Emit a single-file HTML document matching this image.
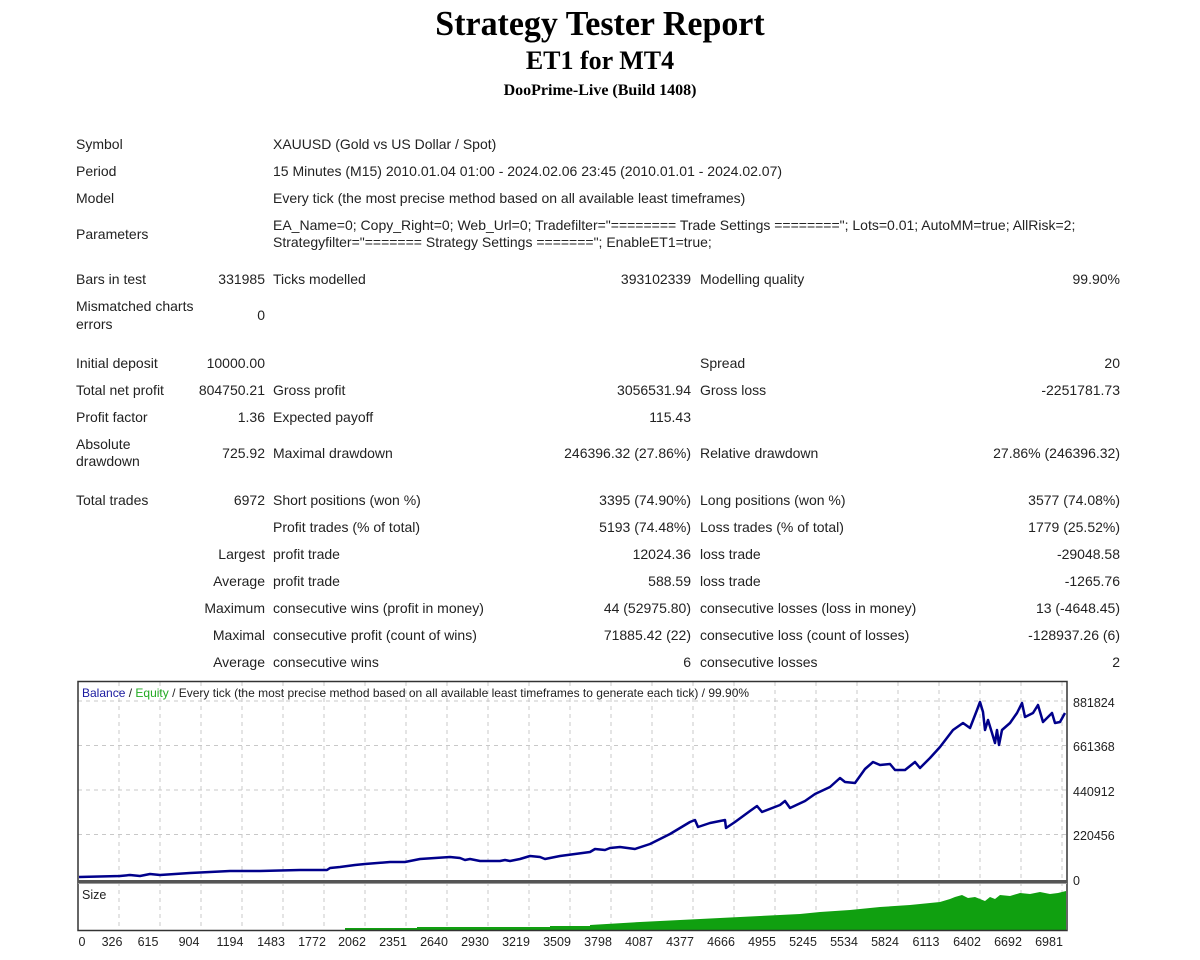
<!DOCTYPE html>
<html><head><meta charset="utf-8"><style>
body{margin:0;background:#fff;width:1200px;height:960px;position:relative;overflow:hidden;font-family:"Liberation Sans",sans-serif;color:#222}
.t{position:absolute;font-size:14px;line-height:17px;white-space:nowrap}
.r{position:absolute;font-size:14px;line-height:17px;white-space:nowrap;text-align:right}
.h{position:absolute;left:0;width:1200px;text-align:center;font-family:"Liberation Serif",serif;font-weight:bold;color:#000}
</style></head><body>
<div class="h" style="top:4px;font-size:35px;line-height:40px;transform:scaleX(0.97)">Strategy Tester Report</div>
<div class="h" style="top:46px;font-size:26px;line-height:30px">ET1 for MT4</div>
<div class="h" style="top:81px;font-size:16px;line-height:20px">DooPrime-Live (Build 1408)</div>

<div class="t" style="left:76px;top:136px">Symbol</div>
<div class="t" style="left:273px;top:136px">XAUUSD (Gold vs US Dollar / Spot)</div>
<div class="t" style="left:76px;top:163px">Period</div>
<div class="t" style="left:273px;top:163px">15 Minutes (M15) 2010.01.04 01:00 - 2024.02.06 23:45 (2010.01.01 - 2024.02.07)</div>
<div class="t" style="left:76px;top:190px">Model</div>
<div class="t" style="left:273px;top:190px">Every tick (the most precise method based on all available least timeframes)</div>
<div class="t" style="left:76px;top:226px">Parameters</div>
<div class="t" style="left:273px;top:217px">EA_Name=0; Copy_Right=0; Web_Url=0; Tradefilter="======== Trade Settings ========"; Lots=0.01; AutoMM=true; AllRisk=2;</div>
<div class="t" style="left:273px;top:234px">Strategyfilter="======= Strategy Settings ======="; EnableET1=true;</div>

<div class="t" style="left:76px;top:271px">Bars in test</div>
<div class="r" style="right:935px;top:271px">331985</div>
<div class="t" style="left:273px;top:271px">Ticks modelled</div>
<div class="r" style="right:509px;top:271px">393102339</div>
<div class="t" style="left:700px;top:271px">Modelling quality</div>
<div class="r" style="right:80px;top:271px">99.90%</div>
<div class="t" style="left:76px;top:298px">Mismatched charts</div>
<div class="t" style="left:76px;top:316px">errors</div>
<div class="r" style="right:935px;top:307px">0</div>

<div class="t" style="left:76px;top:355px">Initial deposit</div>
<div class="r" style="right:935px;top:355px">10000.00</div>
<div class="t" style="left:700px;top:355px">Spread</div>
<div class="r" style="right:80px;top:355px">20</div>
<div class="t" style="left:76px;top:382px">Total net profit</div>
<div class="r" style="right:935px;top:382px">804750.21</div>
<div class="t" style="left:273px;top:382px">Gross profit</div>
<div class="r" style="right:509px;top:382px">3056531.94</div>
<div class="t" style="left:700px;top:382px">Gross loss</div>
<div class="r" style="right:80px;top:382px">-2251781.73</div>
<div class="t" style="left:76px;top:409px">Profit factor</div>
<div class="r" style="right:935px;top:409px">1.36</div>
<div class="t" style="left:273px;top:409px">Expected payoff</div>
<div class="r" style="right:509px;top:409px">115.43</div>
<div class="t" style="left:76px;top:436px">Absolute</div>
<div class="t" style="left:76px;top:453px">drawdown</div>
<div class="r" style="right:935px;top:445px">725.92</div>
<div class="t" style="left:273px;top:445px">Maximal drawdown</div>
<div class="r" style="right:509px;top:445px">246396.32 (27.86%)</div>
<div class="t" style="left:700px;top:445px">Relative drawdown</div>
<div class="r" style="right:80px;top:445px">27.86% (246396.32)</div>

<div class="t" style="left:76px;top:492px">Total trades</div>
<div class="r" style="right:935px;top:492px">6972</div>
<div class="t" style="left:273px;top:492px">Short positions (won %)</div>
<div class="r" style="right:509px;top:492px">3395 (74.90%)</div>
<div class="t" style="left:700px;top:492px">Long positions (won %)</div>
<div class="r" style="right:80px;top:492px">3577 (74.08%)</div>
<div class="t" style="left:273px;top:519px">Profit trades (% of total)</div>
<div class="r" style="right:509px;top:519px">5193 (74.48%)</div>
<div class="t" style="left:700px;top:519px">Loss trades (% of total)</div>
<div class="r" style="right:80px;top:519px">1779 (25.52%)</div>
<div class="r" style="right:935px;top:546px">Largest</div>
<div class="t" style="left:273px;top:546px">profit trade</div>
<div class="r" style="right:509px;top:546px">12024.36</div>
<div class="t" style="left:700px;top:546px">loss trade</div>
<div class="r" style="right:80px;top:546px">-29048.58</div>
<div class="r" style="right:935px;top:573px">Average</div>
<div class="t" style="left:273px;top:573px">profit trade</div>
<div class="r" style="right:509px;top:573px">588.59</div>
<div class="t" style="left:700px;top:573px">loss trade</div>
<div class="r" style="right:80px;top:573px">-1265.76</div>
<div class="r" style="right:935px;top:600px">Maximum</div>
<div class="t" style="left:273px;top:600px">consecutive wins (profit in money)</div>
<div class="r" style="right:509px;top:600px">44 (52975.80)</div>
<div class="t" style="left:700px;top:600px">consecutive losses (loss in money)</div>
<div class="r" style="right:80px;top:600px">13 (-4648.45)</div>
<div class="r" style="right:935px;top:627px">Maximal</div>
<div class="t" style="left:273px;top:627px">consecutive profit (count of wins)</div>
<div class="r" style="right:509px;top:627px">71885.42 (22)</div>
<div class="t" style="left:700px;top:627px">consecutive loss (count of losses)</div>
<div class="r" style="right:80px;top:627px">-128937.26 (6)</div>
<div class="r" style="right:935px;top:654px">Average</div>
<div class="t" style="left:273px;top:654px">consecutive wins</div>
<div class="r" style="right:509px;top:654px">6</div>
<div class="t" style="left:700px;top:654px">consecutive losses</div>
<div class="r" style="right:80px;top:654px">2</div>

<svg width="1200" height="960" style="position:absolute;left:0;top:0" xmlns="http://www.w3.org/2000/svg">
<g stroke="#c8c8c8" stroke-width="1" stroke-dasharray="4,4">
<line x1="78" y1="701" x2="1067" y2="701"/><line x1="78" y1="745.5" x2="1067" y2="745.5"/>
<line x1="78" y1="790" x2="1067" y2="790"/><line x1="78" y1="834.5" x2="1067" y2="834.5"/>
<line x1="119" y1="682" x2="119" y2="930"/><line x1="160" y1="682" x2="160" y2="930"/><line x1="201" y1="682" x2="201" y2="930"/><line x1="242" y1="682" x2="242" y2="930"/><line x1="283" y1="682" x2="283" y2="930"/><line x1="324" y1="682" x2="324" y2="930"/><line x1="365" y1="682" x2="365" y2="930"/><line x1="406" y1="682" x2="406" y2="930"/><line x1="447" y1="682" x2="447" y2="930"/><line x1="488" y1="682" x2="488" y2="930"/><line x1="529" y1="682" x2="529" y2="930"/><line x1="570" y1="682" x2="570" y2="930"/><line x1="611" y1="682" x2="611" y2="930"/><line x1="652" y1="682" x2="652" y2="930"/><line x1="693" y1="682" x2="693" y2="930"/><line x1="734" y1="682" x2="734" y2="930"/><line x1="775" y1="682" x2="775" y2="930"/><line x1="816" y1="682" x2="816" y2="930"/><line x1="857" y1="682" x2="857" y2="930"/><line x1="898" y1="682" x2="898" y2="930"/><line x1="939" y1="682" x2="939" y2="930"/><line x1="980" y1="682" x2="980" y2="930"/><line x1="1021" y1="682" x2="1021" y2="930"/><line x1="1062" y1="682" x2="1062" y2="930"/>
</g>
<polygon fill="#10a010" points="345,931 345,928 417,928 417,927 550,927 550,926 590,926 590,925 640,922 700,919 760,916 800,914 820,912 850,910 880,907 910,905 940,902 950,899 955,897 962,895 968,898 975,897 985,901 990,897 995,899 1000,895 1010,896 1020,893 1030,894 1040,892 1050,894 1058,893 1066,891 1066,931"/>
<polyline fill="none" stroke="#00008b" stroke-width="2.5" stroke-linejoin="round" points="79,877 120,876 130,875 140,876 150,874 160,875 190,873 210,872 230,871 260,871 300,870 327,870 330,868 340,867 355,865 365,864 390,862 405,862 420,859 435,858 450,857 460,858 465,860 470,859 480,861 500,861 505,860 510,861 520,859 530,856 540,857 545,859 560,856 575,854 590,852 595,849 605,850 610,848 620,847 635,849 650,844 670,834 685,825 690,822 695,820 698,827 710,823 725,820 726,828 735,822 750,811 757,806 762,812 780,805 785,801 790,808 805,801 815,794 830,787 840,778 845,782 855,783 865,769 873,762 880,765 890,764 895,770 905,770 915,762 920,768 930,758 940,747 953,730 963,723 970,728 977,710 980,702 983,712 985,730 988,720 992,733 995,743 997,730 999,745 1002,730 1010,723 1017,713 1022,703 1025,717 1033,713 1038,705 1043,722 1052,713 1055,723 1060,722 1065,713"/>
<rect x="78" y="681.5" width="989" height="249" fill="none" stroke="#333" stroke-width="1.5"/>
<rect x="78" y="880" width="989" height="3" fill="#555"/>
<line x1="78" y1="883.5" x2="1067" y2="883.5" stroke="#999"/>
<g font-family="Liberation Sans,sans-serif" font-size="12" fill="#222">
<text x="82" y="697"><tspan fill="#1a1aa0">Balance</tspan> / <tspan fill="#22aa22">Equity</tspan> / Every tick (the most precise method based on all available least timeframes to generate each tick) / 99.90%</text>
<text x="82" y="899" font-size="12.5">Size</text>
<g font-size="12.5">
<text x="1073" y="707">881824</text><text x="1073" y="751">661368</text><text x="1073" y="796">440912</text><text x="1073" y="840">220456</text><text x="1073" y="885">0</text>
</g>
<g text-anchor="middle" font-size="12.5">
<text x="82" y="946">0</text><text x="112" y="946">326</text><text x="148" y="946">615</text><text x="189" y="946">904</text><text x="230" y="946">1194</text><text x="271" y="946">1483</text><text x="312" y="946">1772</text><text x="352" y="946">2062</text><text x="393" y="946">2351</text><text x="434" y="946">2640</text><text x="475" y="946">2930</text><text x="516" y="946">3219</text><text x="557" y="946">3509</text><text x="598" y="946">3798</text><text x="639" y="946">4087</text><text x="680" y="946">4377</text><text x="721" y="946">4666</text><text x="762" y="946">4955</text><text x="803" y="946">5245</text><text x="844" y="946">5534</text><text x="885" y="946">5824</text><text x="926" y="946">6113</text><text x="967" y="946">6402</text><text x="1008" y="946">6692</text><text x="1049" y="946">6981</text>
</g></g>
</svg>
</body></html>
